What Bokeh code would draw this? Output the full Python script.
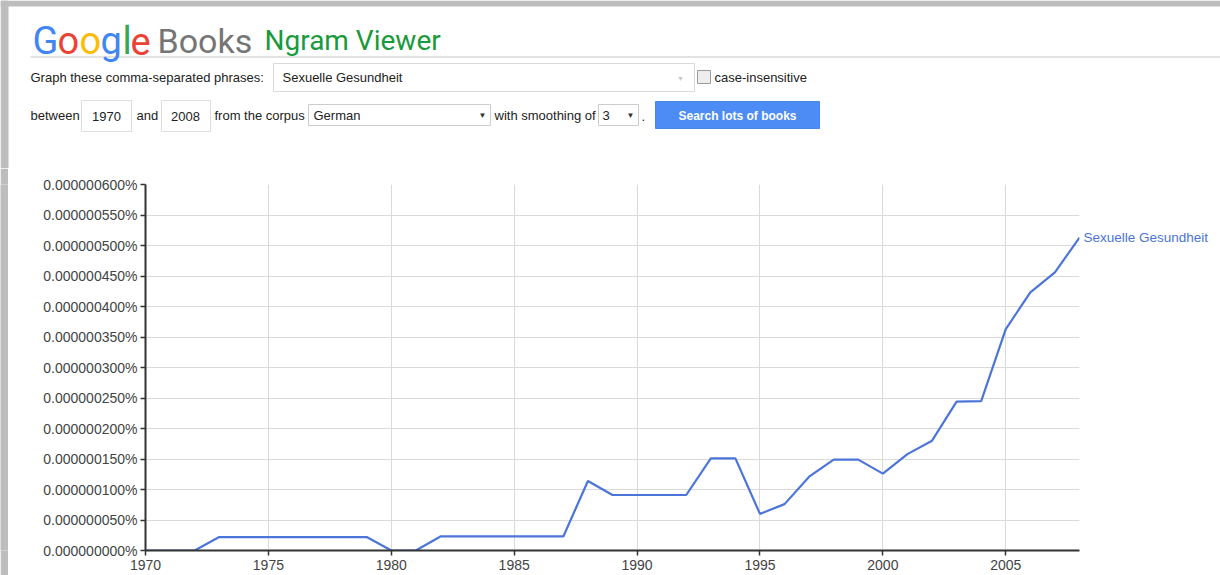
from bokeh.plotting import figure
from bokeh.layouts import column, row
from bokeh.models import Range1d, FixedTicker, Label, BoxAnnotation, LinearAxis
from bokeh.embed import file_html
from bokeh.resources import INLINE

# ---------------- data ----------------
series_name = "Sexuelle Gesundheit"
years = list(range(1970, 2009))
# frequency in units of 1e-9 percent (0.000000001%)
values_e9 = [0, 0, 0, 22, 22, 22, 22, 22, 22, 22,
             0, 0, 23, 23, 23, 23, 23, 23, 114, 91,
             91, 91, 91, 151, 151, 60, 76, 121, 149, 149,
             126, 158, 180, 244, 245, 363, 423, 456, 513]
y_ticks = [0, 50, 100, 150, 200, 250, 300, 350, 400, 450, 500, 550, 600]
y_tick_labels = ["0.000000000%", "0.000000050%", "0.000000100%", "0.000000150%",
                 "0.000000200%", "0.000000250%", "0.000000300%", "0.000000350%",
                 "0.000000400%", "0.000000450%", "0.000000500%", "0.000000550%",
                 "0.000000600%"]
x_ticks = [1970, 1975, 1980, 1985, 1990, 1995, 2000, 2005]
x_tick_labels = ["1970", "1975", "1980", "1985", "1990", "1995", "2000", "2005"]

query_text = "Sexuelle Gesundheit"
start_year = "1970"
end_year = "2008"
corpus = "German"
smoothing = "3"

# ---------------- styles ----------------
FONT = "Liberation Sans"
LOGO_FONT = "Roboto"
LINE_COLOR = "#4c75d9"
TEXT = "#222222"
FRAME_GREY = "#bdbdbd"
W = 1220
STRIPE = 8
LEFT, RIGHT = 145, 141
HEADER_H = 168

# ---------------- header (form) ----------------
header = figure(width=W, height=HEADER_H, x_range=Range1d(0, W), y_range=Range1d(HEADER_H, 0),
                output_backend="svg", toolbar_location=None,
                x_axis_location=None, y_axis_location=None, min_border=0)
header.grid.visible = False
header.outline_line_color = None

# surrounding grey frame of the screenshot
header.quad(left=[0, 0], right=[W, STRIPE], top=[0, 0], bottom=[6, HEADER_H],
            fill_color=FRAME_GREY, line_color=None)


def hbox(l, r, t, b, fill, line):
    header.add_layout(BoxAnnotation(left=l, right=r, top=t, bottom=b, fill_color=fill, fill_alpha=1,
                                    line_color=line, line_alpha=1, line_width=1))


def hlabel(x, y, t, color=TEXT, size="13px", align="left", style="normal", font=FONT, baseline="middle"):
    header.add_layout(Label(x=x, y=y, text=t, text_color=color, text_font=font, text_font_size=size,
                            text_baseline=baseline, text_align=align, text_font_style=style))


# separator
hbox(30, W, 56, 57, "#c8c8c8", None)
# input boxes
hbox(273, 694, 63, 91, "white", "#d9d9d9")
hbox(697, 710, 70, 83, "#eeeeee", "#9a9a9a")
hbox(81, 131, 100, 131, "white", "#dddddd")
hbox(161, 210, 100, 131, "white", "#dddddd")
hbox(308, 490, 104, 125, "white", "#cccccc")
hbox(598, 638, 104, 125, "white", "#cccccc")
hbox(655, 819, 101, 128, "#4d8cf5", "#4a85ea")

logo_letters = ["G", "o", "o", "g", "l", "e"]
logo_colors = ["#4285f4", "#ea4335", "#fbbc05", "#4285f4", "#34a853", "#ea4335"]
logo_x = [32, 57, 79, 100, 122, 130]
for ch, col, lx in zip(logo_letters, logo_colors, logo_x):
    hlabel(lx, 40, ch, color=col, size="38px", font=LOGO_FONT, baseline="alphabetic")
hlabel(157, 40, "Books", color="#757575", size="34px", font=LOGO_FONT, baseline="alphabetic")
hlabel(264, 40, "Ngram Viewer", color="#1a9a3c", size="28px", font=LOGO_FONT, baseline="alphabetic")

hlabel(30, 77, "Graph these comma-separated phrases:")
hlabel(282, 77, query_text)
hlabel(680, 78, "\u25bc", color="#c8c8c8", size="7px", align="center")
hlabel(714, 77, "case-insensitive")
hlabel(30, 115, "between")
hlabel(106, 116, start_year, align="center")
hlabel(136, 115, "and")
hlabel(185, 116, end_year, align="center")
hlabel(214, 115, "from the corpus")
hlabel(313, 115, corpus)
hlabel(482, 115, "\u25bc", color="#333333", size="8px", align="center")
hlabel(494, 115, "with smoothing of")
hlabel(602, 115, smoothing)
hlabel(630, 115, "\u25bc", color="#333333", size="8px", align="center")
hlabel(641, 116, ".")
hlabel(737, 115, "Search lots of books", color="white", size="12px", align="center", style="bold")

# ---------------- chart ----------------
CHART_H = 575 - HEADER_H
p = figure(width=W - STRIPE, height=CHART_H, x_range=Range1d(years[0], years[-1]),
           y_range=Range1d(y_ticks[0], y_ticks[-1]),
           output_backend="svg", toolbar_location=None,
           min_border_left=LEFT - STRIPE, min_border_right=RIGHT,
           min_border_top=184 - HEADER_H, min_border_bottom=25)
p.outline_line_color = None

p.line(years, values_e9, line_color=LINE_COLOR, line_width=2.2)

p.xaxis.ticker = FixedTicker(ticks=x_ticks)
p.xaxis.major_label_overrides = dict(zip(x_ticks, x_tick_labels))
p.yaxis.ticker = FixedTicker(ticks=y_ticks)
p.yaxis.major_label_overrides = dict(zip(y_ticks, y_tick_labels))

for ax in (p.xaxis[0], p.yaxis[0]):
    ax.axis_line_color = "#333333"
    ax.axis_line_width = 2
    ax.major_tick_line_color = "#333333"
    ax.major_tick_line_width = 1.5
    ax.major_tick_in = 0
    ax.minor_tick_line_color = None
    ax.major_label_text_font = FONT
    ax.major_label_text_font_size = "14px"
    ax.major_label_text_color = "#444444"
p.yaxis.major_tick_out = 5
p.yaxis.major_label_standoff = 3
p.xaxis.major_tick_out = 5
p.xaxis.major_label_standoff = 4

p.xgrid.grid_line_color = "#dadada"
p.ygrid.grid_line_color = "#dadada"
p.xgrid.grid_line_width = 1
p.ygrid.grid_line_width = 1

# series name at the line's end, drawn in the right border as an axis label
end_axis = LinearAxis(ticker=FixedTicker(ticks=[values_e9[-1]]),
                      major_label_overrides={values_e9[-1]: series_name},
                      axis_line_color=None, major_tick_line_color=None, minor_tick_line_color=None,
                      major_tick_out=0, major_tick_in=0, major_label_standoff=4,
                      major_label_text_font=FONT, major_label_text_font_size="13.5px",
                      major_label_text_color=LINE_COLOR, major_label_text_baseline="alphabetic")
p.add_layout(end_axis, "right")

# grey left edge of the screenshot beside the chart
stripe = figure(width=STRIPE, height=CHART_H, output_backend="svg", toolbar_location=None,
                x_axis_location=None, y_axis_location=None, min_border=0,
                background_fill_color=FRAME_GREY, border_fill_color=FRAME_GREY)
stripe.grid.visible = False
stripe.outline_line_color = None

layout = column(row(header), row(stripe, p, spacing=0), spacing=0)
open("out.html", "w").write(file_html(layout, INLINE))
